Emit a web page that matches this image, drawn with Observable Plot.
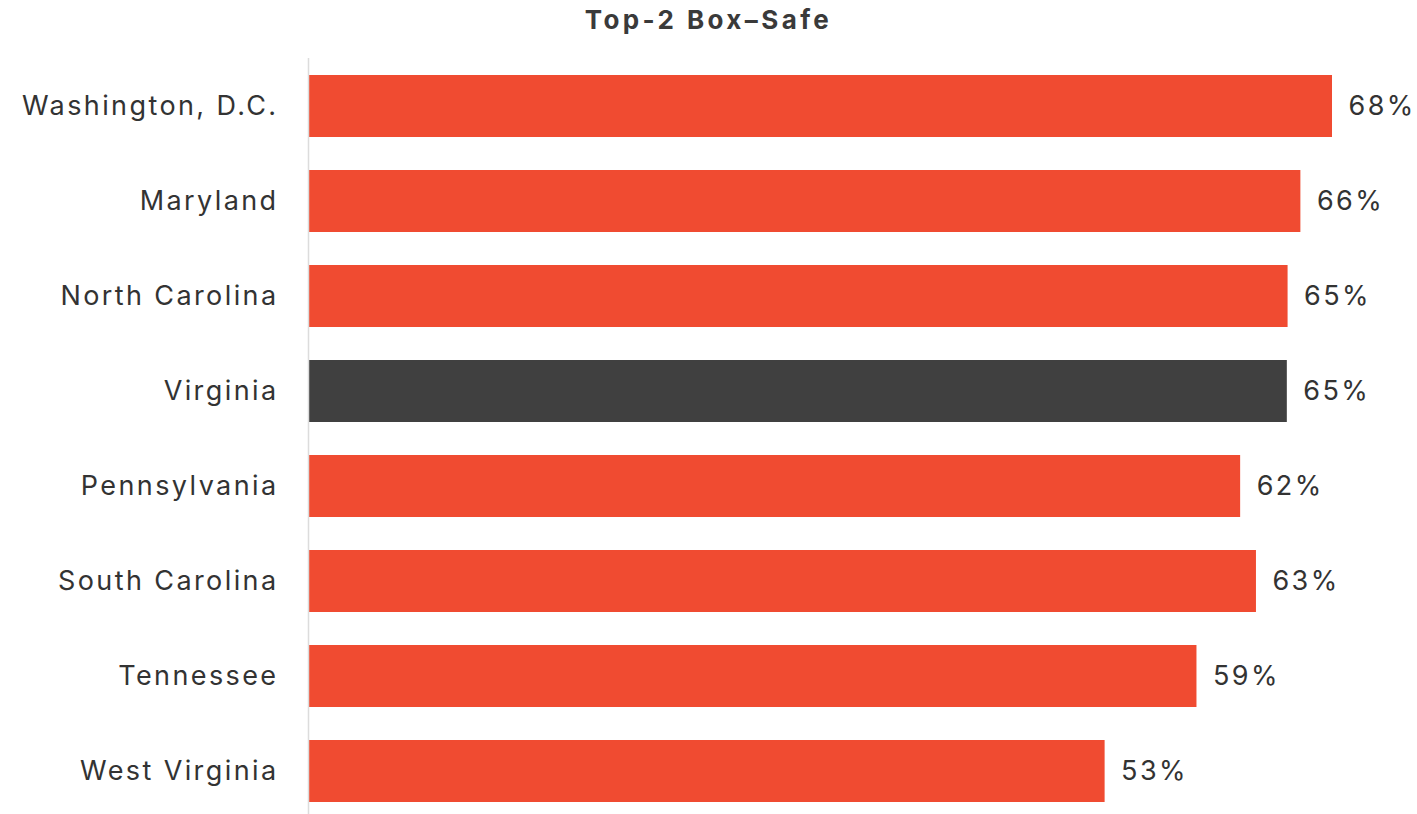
<!DOCTYPE html>
<html>
<head>
<meta charset="utf-8">
<script src="https://cdn.jsdelivr.net/npm/d3@7"></script>
<script src="https://cdn.jsdelivr.net/npm/@observablehq/plot@0.6"></script>
<style>
  html, body { margin: 0; padding: 0; background: #fff; }
  #title { height: 40px; line-height: 40px; text-align: center; font-family: Inter, sans-serif; font-weight: 700; font-size: 26px; letter-spacing: 3.4px; color: #3a3a3a; }
  #chart svg { display: block; }
  #chart svg text { letter-spacing: 2.4px; }
</style>
</head>
<body>
<div id="title">Top-2 Box–Safe</div>
<div id="chart"></div>
<script>
const states = ["Washington, D.C.", "Maryland", "North Carolina", "Virginia", "Pennsylvania", "South Carolina", "Tennessee", "West Virginia"];
const values = [68, 66, 65, 65, 62, 63, 59, 53];
const barValues = [68, 65.9, 65.05, 65, 61.9, 62.95, 59, 52.9];
const highlight = "Virginia";

const data = states.map((s, i) => ({state: s, value: values[i], bar: barValues[i], hl: s === highlight}));

const chart = Plot.plot({
  width: 1417,
  height: 774,
  marginLeft: 308,
  marginRight: 85,
  marginTop: 18,
  marginBottom: 0,
  style: {fontFamily: "Inter, sans-serif", fontSize: "27px", color: "#333", background: "#fff"},
  x: {domain: [0, 68], axis: null},
  y: {domain: states, range: [17.4, 778.5], paddingInner: 0.35, paddingOuter: 0.175, label: null},
  axis: null,
  marks: [
    Plot.barX(data, {x: "bar", y: "state", fill: d => d.hl ? "#404040" : "#f04b31"}),
    Plot.ruleX([0], {stroke: "#dcdcdc", strokeWidth: 1.5}),
    Plot.axisY({tickSize: 0, tickPadding: 30, fontSize: 27, fill: "#333", label: null}),
    Plot.text(data, {x: "bar", y: "state", text: d => d.value + "%", dx: 16, textAnchor: "start", fontSize: 27, fill: "#333"})
  ]
});
document.getElementById("chart").appendChild(chart);
</script>
</body>
</html>
